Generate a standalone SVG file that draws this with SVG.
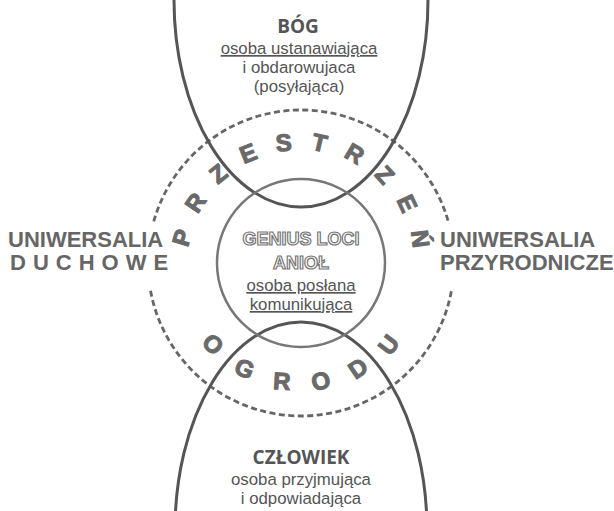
<svg xmlns="http://www.w3.org/2000/svg" width="614" height="511" viewBox="0 0 614 511">
<style>
.bg{fill:#fff}
.solid{fill:none;stroke:#555;stroke-width:3}
.inner{fill:none;stroke:#777;stroke-width:2.5}
.dash{fill:none;stroke:#666;stroke-width:2.8;stroke-dasharray:6 3.5}
.head{font-family:"Open Sans","Liberation Sans",sans-serif;font-weight:bold;font-size:19px;fill:#555;text-anchor:middle}
.sub{font-family:"Liberation Sans",Arial,sans-serif;font-size:16.8px;fill:#555;text-anchor:middle}
.ul{text-decoration:underline}
.out{font-family:"Liberation Sans",Arial,sans-serif;font-weight:bold;font-size:18px;fill:#fff;stroke:#777;stroke-width:1.2;text-anchor:middle}
.lab{font-family:"Liberation Sans",Arial,sans-serif;font-weight:bold;font-size:22px;fill:#666}
.ring{font-family:"Liberation Sans",Arial,sans-serif;font-weight:bold;font-size:24px;fill:#6a6a6a;stroke:#6a6a6a;stroke-width:1.1;stroke-linejoin:round}
</style>
<defs>
<path id="topArc" d="M 188 263 A 113 113 0 0 1 414 263"/>
<path id="botArc" d="M 173.5 263 A 127.5 127.5 0 0 0 428.5 263"/>
</defs>
<rect class="bg" x="0" y="0" width="614" height="511"/>
<g id="connectors">
<circle id="dashed-ring" class="dash" cx="301" cy="263" r="153"/>
<path id="top-curve" class="solid" d="M 174 0 A 127 207 0 0 0 428 0"/>
<path id="bottom-curve" class="solid" d="M 175 530 A 126 208 0 0 1 427 530"/>
</g>
<g id="node-genius">
<circle class="inner" cx="301" cy="263" r="84"/>
<text class="out" x="301" y="245">GENIUS LOCI</text>
<text class="out" x="301" y="269">ANIOŁ</text>
<text class="sub ul" x="301" y="291">osoba posłana</text>
<text class="sub ul" x="301" y="310">komunikująca</text>
</g>
<g id="node-ring">
<text class="ring" letter-spacing="18.3"><textPath href="#topArc" startOffset="186.6" text-anchor="middle">PRZESTRZEŃ</textPath></text>
<text class="ring" letter-spacing="23.9"><textPath href="#botArc" startOffset="212.3" text-anchor="middle">OGRODU</textPath></text>
</g>
<g id="node-bog">
<text class="head" x="298" y="33">BÓG</text>
<text class="sub ul" x="299" y="54">osoba ustanawiająca</text>
<text class="sub" x="299" y="73">i obdarowujaca</text>
<text class="sub" x="299" y="92">(posyłająca)</text>
</g>
<g id="node-czlowiek">
<text class="head" x="301" y="464">CZŁOWIEK</text>
<text class="sub" x="301" y="485">osoba przyjmująca</text>
<text class="sub" x="301" y="504">i odpowiadająca</text>
</g>
<g id="node-duchowe">
<rect class="bg" x="0" y="224" width="170" height="64"/>
<text class="lab" x="8" y="247">UNIWERSALIA</text>
<text class="lab" x="10" y="270" letter-spacing="7">DUCHOWE</text>
</g>
<g id="node-przyrodnicze">
<rect class="bg" x="435" y="224" width="179" height="64"/>
<text class="lab" x="440" y="247">UNIWERSALIA</text>
<text class="lab" x="440" y="270">PRZYRODNICZE</text>
</g>
</svg>
